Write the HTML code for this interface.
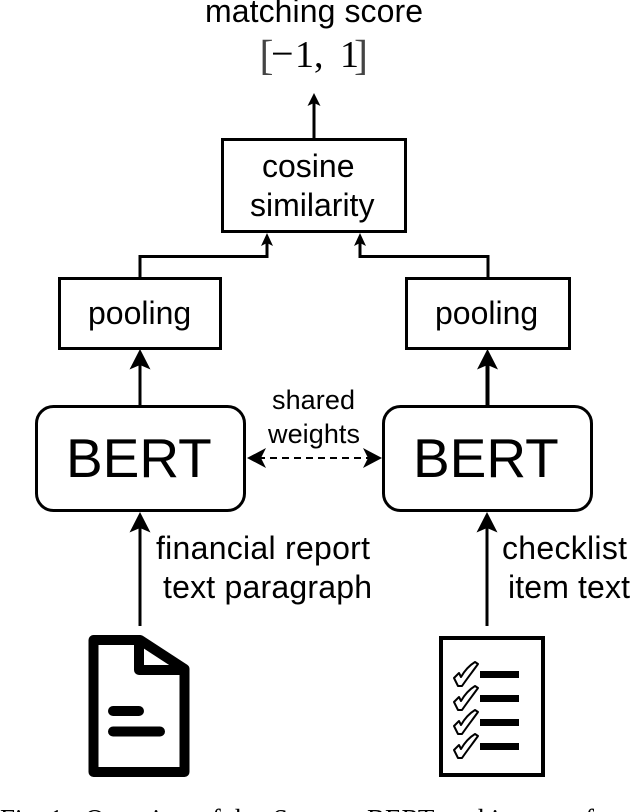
<!DOCTYPE html>
<html>
<head>
<meta charset="utf-8">
<style>
html,body{margin:0;padding:0;background:#fff}
svg{display:block}
text{font-family:"Liberation Sans",sans-serif;fill:#000}
.s{font-family:"Liberation Serif",serif}
</style>
</head>
<body>
<svg width="630" height="812" viewBox="0 0 630 812" xmlns="http://www.w3.org/2000/svg">
<rect width="630" height="812" fill="#fff"/>

<!-- top labels -->
<text x="205" y="22" font-size="32" textLength="218">matching score</text>
<text class="s" x="259.500" y="69.500" font-size="42" style="fill:#444">[</text>
<text class="s" x="271" y="67" font-size="40">−</text>
<text class="s" x="295" y="67" font-size="38">1,</text>
<text class="s" x="340" y="67" font-size="38">1</text>
<text class="s" x="354" y="69.500" font-size="42" style="fill:#444">]</text>

<!-- boxes -->
<g fill="#fff" stroke="#000" stroke-width="3">
<rect x="222.500" y="139.500" width="183" height="92"/>
<rect x="59.500" y="278.500" width="161" height="70"/>
<rect x="406.500" y="278.500" width="163" height="70"/>
<rect x="36.500" y="406.500" width="208" height="104" rx="17" ry="17"/>
<rect x="383.500" y="406.500" width="208" height="104" rx="17" ry="17"/>
</g>

<!-- box labels -->
<text x="262" y="177" font-size="32">cosine</text>
<text x="250" y="216" font-size="32">similarity</text>
<text x="88" y="324" font-size="32">pooling</text>
<text x="435" y="324" font-size="32">pooling</text>
<text x="66" y="477" font-size="55">BERT</text>
<text x="413" y="477" font-size="55">BERT</text>

<!-- connectors -->
<g fill="none" stroke="#000">
<path d="M314 139V100" stroke-width="3"/>
<path d="M140 278V256.500H267V240" stroke-width="3"/>
<path d="M488 278V256.500H360V240" stroke-width="3"/>
<path d="M140 406V360" stroke-width="3"/>
<path d="M487.500 406V360" stroke-width="4"/>
<path d="M140 626V525" stroke-width="3"/>
<path d="M487 626V525" stroke-width="3"/>
<path d="M258 458H372" stroke-width="2" stroke-dasharray="7 5"/>
</g>

<!-- arrowheads -->
<g fill="#000">
<path d="M314 93L320.500 106L314 103L307.500 106Z"/>
<path d="M267 233L273 246L267 243L261 246Z"/>
<path d="M360 233L366 246L360 243L354 246Z"/>
<path d="M140 349L150.500 369.500L140 365L129.500 369.500Z"/>
<path d="M487.500 349L498 369.500L487.500 365L477 369.500Z"/>
<path d="M140 512L150.500 532.500L140 528L129.500 532.500Z"/>
<path d="M487 512L497.500 532.500L487 528L476.500 532.500Z"/>
<path d="M247 458L266 448L261 458L266 468Z"/>
<path d="M382 458L363 448L368 458L363 468Z"/>
</g>

<!-- connector labels -->
<text x="272" y="409" font-size="27" textLength="83">shared</text>
<text x="268" y="443" font-size="27" textLength="92">weights</text>
<text x="156" y="559" font-size="32" textLength="214">financial report</text>
<text x="163" y="598" font-size="32" textLength="209">text paragraph</text>
<text x="502" y="559" font-size="32" textLength="125">checklist</text>
<text x="508" y="598" font-size="32" textLength="122">item text</text>

<!-- document icon -->
<g fill="none" stroke="#000" stroke-width="10" stroke-linejoin="round" stroke-linecap="round">
<path d="M93.500 640H140L184.500 669V772H93.500Z"/>
<path d="M139 640V670H184.500"/>
<path d="M113 711H139"/>
<path d="M113 731.500H160"/>
</g>

<!-- checklist icon -->
<rect x="441" y="638" width="102" height="137" fill="#fff" stroke="#000" stroke-width="4"/>
<g fill="#000">
<rect x="480" y="671" width="39" height="7"/>
<rect x="480" y="695" width="39" height="7"/>
<rect x="480" y="719" width="39" height="7"/>
<rect x="480" y="743" width="39" height="7"/>
</g>
<g fill="#fff" stroke="#000" stroke-width="2" stroke-linejoin="round">
<path d="M454 678L459 673L461 677C465 670 470 665 475 662L478 664C473 671 466 680 462 686L458 686Z"/>
<path d="M454 702L459 697L461 701C465 694 470 689 475 686L478 688C473 695 466 704 462 710L458 710Z"/>
<path d="M454 726L459 721L461 725C465 718 470 713 475 710L478 712C473 719 466 728 462 734L458 734Z"/>
<path d="M454 750L459 745L461 749C465 742 470 737 475 734L478 736C473 743 466 752 462 758L458 758Z"/>
</g>

<!-- clipped caption -->
<g font-size="27">
<text class="s" x="0" y="828">Fig. 1:</text>
<text class="s" x="85" y="828">Overview of the</text>
<text class="s" x="273" y="828">Sentence</text>
<text class="s" x="367" y="828">BERT</text>
<text class="s" x="445" y="828">architecture</text>
<text class="s" x="585" y="828">for</text>
</g>
</svg>
</body>
</html>
